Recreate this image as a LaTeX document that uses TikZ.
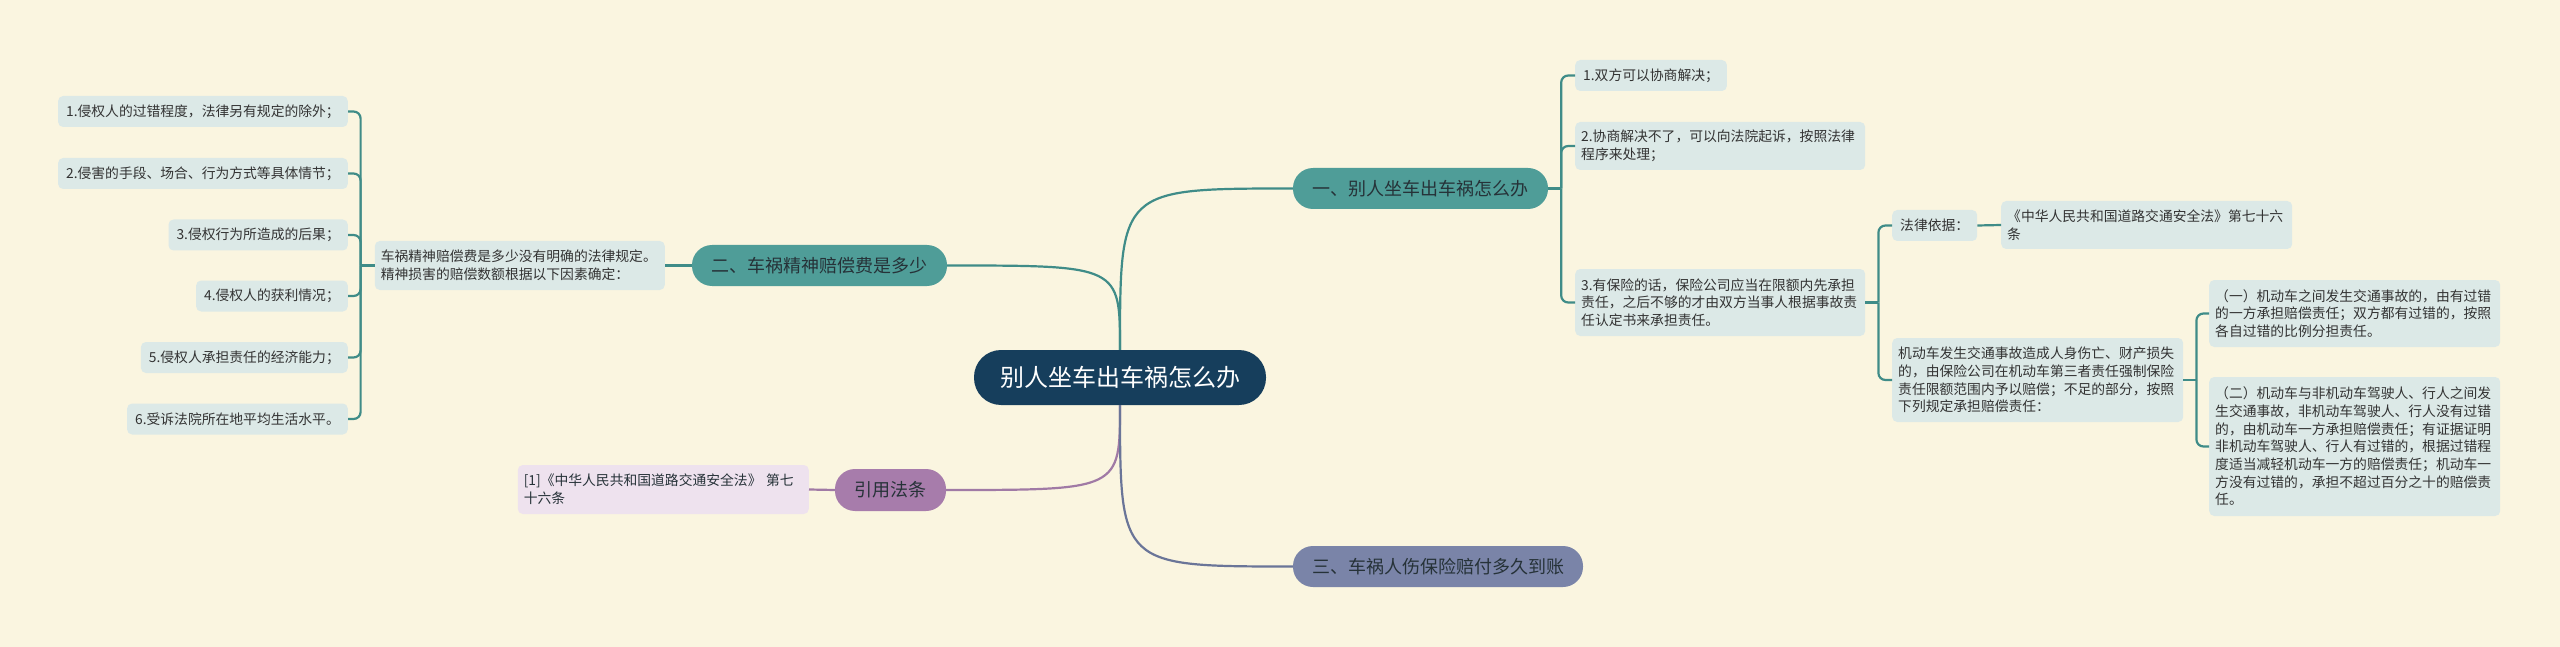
\documentclass[tikz,border=0pt]{standalone}
\usepackage{fontspec}
\setmainfont{Noto Sans CJK SC}
\definecolor{bg}{HTML}{FAF5E0}
\definecolor{leaffill}{HTML}{DCE9E7}
\definecolor{tealline}{HTML}{3F8C88}
\definecolor{tealfill}{HTML}{4F9D98}
\definecolor{rootfill}{HTML}{163E5C}
\definecolor{purpline}{HTML}{A07AA5}
\definecolor{purpfill}{HTML}{A77CAB}
\definecolor{citefill}{HTML}{EEE2EE}
\definecolor{slateline}{HTML}{6A7598}
\definecolor{slatefill}{HTML}{7A84A8}
\definecolor{txt}{HTML}{333333}
\definecolor{btxt}{HTML}{263238}
\tikzset{
  leaf/.style={fill=leaffill, rounded corners=5pt, inner xsep=6pt, inner ysep=6pt, align=left,
    text=txt, font=\fontsize{13.8pt}{17.7pt}\selectfont, minimum height=31pt},
  leafone/.style={leaf, inner xsep=8pt},
  cite/.style={leaf, fill=citefill, text=btxt},
  branch/.style={rounded corners=20pt, minimum height=41pt, inner sep=0pt, text=btxt,
    font=\fontsize{18pt}{22pt}\selectfont},
  rootbox/.style={fill=rootfill, rounded corners=27pt, minimum height=55pt, minimum width=292pt,
    inner sep=0pt, text=white, font=\fontsize{24pt}{28pt}\selectfont},
  tline/.style={draw=tealline, line width=2.2pt},
  tbr/.style={tline, rounded corners=7pt},
}
\begin{document}
\begin{tikzpicture}[x=1pt,y=-1pt]
\fill[bg] (0,0) rectangle (2560,647);
\useasboundingbox (0,0) rectangle (2560,647);

% root and branches
\node[rootbox] (root) at (1120,377.5) {别人坐车出车祸怎么办};
\node[branch, fill=tealfill, minimum width=255pt] (b1) at (1420.5,188.5) {一、别人坐车出车祸怎么办};
\node[branch, fill=tealfill, minimum width=255pt] (b2) at (819.5,265.5) {二、车祸精神赔偿费是多少};
\node[branch, fill=slatefill, minimum width=290pt] (b3) at (1438,566.5) {三、车祸人伤保险赔付多久到账};
\node[branch, fill=purpfill, minimum width=111pt, minimum height=42pt] (b4) at (890.5,490) {引用法条};

\draw[tline] (root.north) .. controls (root.north |- b2.east) .. (b2.east);
\draw[tline] (root.north) .. controls (root.north |- b1.west) .. (b1.west);
\draw[draw=purpline, line width=2.2pt] (root.south) .. controls (root.south |- b4.east) .. (b4.east);
\draw[draw=slateline, line width=2.2pt] (root.south) .. controls (root.south |- b3.west) .. (b3.west);

% left: branch 二
\node[leaf, text width=278pt, minimum height=49pt, anchor=east] (desc) at (665,265.5)
  {车祸精神赔偿费是多少没有明确的法律规定。\\精神损害的赔偿数额根据以下因素确定：};
\draw[tline] (b2.west) -- (desc.east);
\node[leafone, anchor=east] (L1) at (348,111.5) {1.侵权人的过错程度，法律另有规定的除外；};
\node[leafone, anchor=east] (L2) at (348,173.5) {2.侵害的手段、场合、行为方式等具体情节；};
\node[leafone, anchor=east] (L3) at (348,235) {3.侵权行为所造成的后果；};
\node[leafone, anchor=east] (L4) at (348,296) {4.侵权人的获利情况；};
\node[leafone, anchor=east] (L5) at (348,357.5) {5.侵权人承担责任的经济能力；};
\node[leafone, anchor=east] (L6) at (348,419) {6.受诉法院所在地平均生活水平。};
\coordinate (jL) at ([xshift=-14pt]desc.west);
\draw[tline] (desc.west) -- (jL);
\foreach \n in {L1,L2,L3,L4,L5,L6} \draw[tbr] (jL) |- (\n.east);

% citation
\node[cite, text width=279pt, minimum height=49pt, anchor=east] (c1) at (809,489.5)
  {[1]《中华人民共和国道路交通安全法》 第七\\十六条};
\draw[draw=purpline, line width=2.2pt] (b4.west) -- (c1.east);

% right: branch 一
\node[leafone, anchor=west] (R1) at (1575,75.5) {1.双方可以协商解决；};
\node[leaf, text width=278pt, minimum height=48pt, anchor=west] (R2) at (1575,146)
  {2.协商解决不了，可以向法院起诉，按照法律\\程序来处理；};
\node[leaf, text width=278pt, minimum height=67pt, anchor=west] (R3) at (1575,302.5)
  {3.有保险的话，保险公司应当在限额内先承担\\责任，之后不够的才由双方当事人根据事故责\\任认定书来承担责任。};
\coordinate (jR) at ([xshift=13pt]b1.east);
\draw[tline] (b1.east) -- (jR);
\foreach \n in {R1,R2,R3} \draw[tbr] (jR) |- (\n.west);

\node[leafone, anchor=west] (R4) at (1892,225.5) {法律依据：};
\node[leaf, text width=279pt, minimum height=48pt, anchor=west] (R5) at (2001,225)
  {《中华人民共和国道路交通安全法》第七十六\\条};
\draw[tline] (R4.east) -- (R5.west);
\node[leaf, text width=279pt, minimum height=84pt, anchor=west] (R6) at (1892,380)
  {机动车发生交通事故造成人身伤亡、财产损失\\的，由保险公司在机动车第三者责任强制保险\\责任限额范围内予以赔偿；不足的部分，按照\\下列规定承担赔偿责任：};
\coordinate (jC) at ([xshift=13pt]R3.east);
\draw[tline] (R3.east) -- (jC);
\foreach \n in {R4,R6} \draw[tbr] (jC) |- (\n.west);

\node[leaf, text width=279pt, minimum height=67pt, anchor=west] (R7) at (2209,313.5)
  {（一）机动车之间发生交通事故的，由有过错\\的一方承担赔偿责任；双方都有过错的，按照\\各自过错的比例分担责任。};
\node[leaf, text width=279pt, minimum height=139pt, anchor=west] (R8) at (2209,446.5)
  {（二）机动车与非机动车驾驶人、行人之间发\\生交通事故，非机动车驾驶人、行人没有过错\\的，由机动车一方承担赔偿责任；有证据证明\\非机动车驾驶人、行人有过错的，根据过错程\\度适当减轻机动车一方的赔偿责任；机动车一\\方没有过错的，承担不超过百分之十的赔偿责\\任。};
\coordinate (jD) at ([xshift=13pt]R6.east);
\draw[tline] (R6.east) -- (jD);
\foreach \n in {R7,R8} \draw[tbr] (jD) |- (\n.west);
\end{tikzpicture}
\end{document}
